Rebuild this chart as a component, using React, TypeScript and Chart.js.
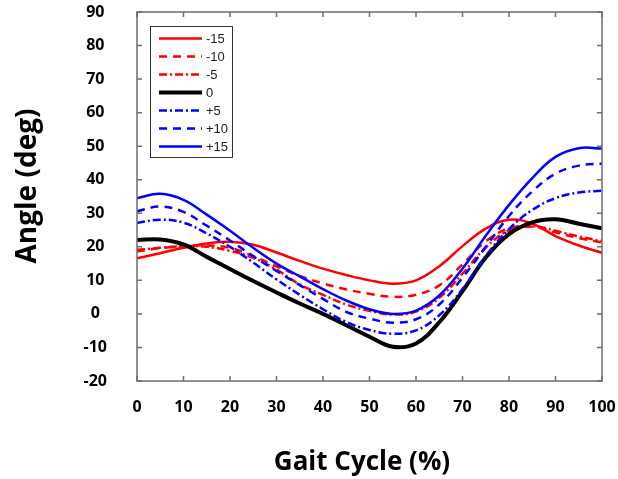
import React, { useEffect, useRef } from "react";
import { Chart, registerables } from "chart.js";

Chart.register(...registerables);

// Gait cycle (%) sample positions
const gaitPct = [0, 5, 10, 15, 20, 25, 30, 35, 40, 45, 50, 55, 60, 65, 70, 75, 80, 85, 90, 95, 100];

// Angle (deg) per condition
const angleM15 = [16.6, 18.1, 19.7, 21.0, 21.5, 20.6, 18.3, 15.8, 13.5, 11.6, 10.0, 9.0, 10.0, 14.2, 20.2, 25.4, 28.1, 26.9, 23.2, 20.4, 18.2];
const angleM10 = [18.6, 19.6, 20.2, 20.4, 19.7, 17.2, 14.2, 11.3, 9.1, 7.3, 6.0, 5.1, 5.7, 8.5, 14.8, 21.6, 25.5, 26.0, 24.3, 22.6, 21.3];
const angleM5 = [19.1, 19.7, 20.2, 20.0, 18.8, 16.7, 13.2, 8.8, 5.7, 2.8, 0.9, -0.2, 0.7, 4.8, 12.0, 19.8, 24.9, 26.1, 24.8, 23.1, 21.7];
const angle0 = [22.0, 22.2, 20.7, 17.0, 13.4, 9.8, 6.4, 3.1, 0.0, -3.4, -6.8, -9.8, -8.8, -2.5, 6.8, 16.8, 23.8, 27.3, 28.2, 26.9, 25.5];
const angleP5 = [27.1, 28.1, 27.2, 24.0, 20.0, 15.3, 10.3, 5.7, 1.4, -2.4, -4.8, -5.9, -4.9, -0.4, 7.4, 17.3, 25.3, 31.0, 34.5, 36.2, 36.7];
const angleP10 = [30.6, 32.0, 30.4, 26.3, 21.9, 17.2, 12.8, 8.6, 4.5, 0.6, -1.4, -2.6, -1.6, 2.8, 10.8, 20.0, 29.2, 36.5, 41.8, 44.2, 44.8];
const angleP15 = [34.5, 35.8, 34.0, 29.6, 24.8, 19.7, 15.0, 11.2, 7.4, 4.0, 1.4, 0.0, 1.0, 5.5, 13.5, 23.3, 32.5, 40.5, 46.8, 49.4, 49.3];

const seriesLabels = ["-15", "-10", "-5", "0", "+5", "+10", "+15"];
const seriesValues = [angleM15, angleM10, angleM5, angle0, angleP5, angleP10, angleP15];
const seriesColors = ["#ff0000", "#ff0000", "#ff0000", "#000000", "#0000ff", "#0000ff", "#0000ff"];
const seriesDash = [[], [8, 6], [8, 3, 2, 3], [], [8, 3, 2, 3], [8, 6], []];
const seriesWidth = [2.5, 2.5, 2.5, 4, 2.5, 2.5, 2.5];

const yTitle = "Angle (deg)";
const xTitle = "Gait Cycle (%)";

const FRAME = "#6e6e6e";

const framePlugin = {
  id: "frameTicks",
  afterDraw(chart: any) {
    const { ctx, chartArea: a, scales } = chart;
    const xs = scales.x;
    const ys = scales.y;
    ctx.save();
    ctx.strokeStyle = FRAME;
    ctx.lineWidth = 1.5;
    ctx.setLineDash([]);
    ctx.strokeRect(a.left, a.top, a.right - a.left, a.bottom - a.top);
    const tl = 5;
    ctx.beginPath();
    xs.ticks.forEach((t: any) => {
      const px = xs.getPixelForValue(t.value);
      ctx.moveTo(px, a.bottom);
      ctx.lineTo(px, a.bottom - tl);
      ctx.moveTo(px, a.top);
      ctx.lineTo(px, a.top + tl);
    });
    ys.ticks.forEach((t: any) => {
      const py = ys.getPixelForValue(t.value);
      ctx.moveTo(a.left, py);
      ctx.lineTo(a.left + tl, py);
      ctx.moveTo(a.right, py);
      ctx.lineTo(a.right - tl, py);
    });
    ctx.stroke();

    // axis titles
    ctx.fillStyle = "#000";
    ctx.textAlign = "center";
    ctx.textBaseline = "middle";
    ctx.font = "bold 26px 'Open Sans'";
    ctx.fillText(xTitle, 362, 463);
    ctx.save();
    ctx.translate(28, 186);
    ctx.rotate(-Math.PI / 2);
    ctx.font = "bold 28px 'Open Sans'";
    ctx.fillText(yTitle, 0, 0);
    ctx.restore();

    // legend
    const bx = 150, by = 26, bw = 82, bh = 131;
    ctx.fillStyle = "#fff";
    ctx.fillRect(bx, by, bw, bh);
    ctx.strokeStyle = "#333";
    ctx.lineWidth = 1;
    ctx.strokeRect(bx + 0.5, by + 0.5, bw, bh);
    ctx.font = "13px 'Liberation Sans', Arial, sans-serif";
    ctx.textAlign = "left";
    ctx.textBaseline = "middle";
    chart.data.datasets.forEach((ds: any, i: number) => {
      const y = 38.5 + i * 18;
      ctx.beginPath();
      ctx.strokeStyle = ds.borderColor;
      ctx.lineWidth = ds.borderWidth;
      ctx.setLineDash(ds.borderDash || []);
      ctx.moveTo(159, y);
      ctx.lineTo(202, y);
      ctx.stroke();
      ctx.setLineDash([]);
      ctx.fillStyle = "#222";
      ctx.fillText(ds.label, 206, y + 0.5);
    });
    ctx.restore();
  },
};

export default function App() {
  const ref = useRef<HTMLCanvasElement | null>(null);
  useEffect(() => {
    if (!ref.current) return;
    const datasets = seriesLabels.map((label, i) => ({
      label,
      data: gaitPct.map((x, j) => ({ x, y: seriesValues[i][j] })),
      borderColor: seriesColors[i],
      backgroundColor: seriesColors[i],
      borderDash: seriesDash[i],
      borderWidth: seriesWidth[i],
      pointRadius: 0,
      fill: false,
      tension: 0.4,
      order: 7 - i,
    }));
    const chart = new Chart(ref.current, {
      type: "line",
      data: { datasets },
      plugins: [framePlugin],
      options: {
        animation: false,
        responsive: false,
        maintainAspectRatio: false,
        layout: { padding: { top: 12, right: 16, left: 0, bottom: 0 } },
        plugins: { legend: { display: false }, tooltip: { enabled: false } },
        scales: {
          x: {
            type: "linear",
            min: 0,
            max: 100,
            grid: { display: false, drawTicks: false },
            border: { display: false },
            ticks: {
              stepSize: 10,
              padding: 17,
              color: "#000",
              font: { family: "'Open Sans'", weight: "bold", size: 16 },
            },
            afterFit: (s: any) => {
              s.height = 98;
              s.paddingLeft = 0;
              s.paddingRight = 0;
            },
          },
          y: {
            type: "linear",
            min: -20,
            max: 90,
            grid: { display: false, drawTicks: false },
            border: { display: false },
            ticks: {
              stepSize: 10,
              padding: 30,
              crossAlign: "center",
              color: "#000",
              font: { family: "'Open Sans'", weight: "bold", size: 16 },
            },
            afterFit: (s: any) => {
              s.width = 137;
              s.paddingTop = 0;
              s.paddingBottom = 0;
            },
          },
        },
      } as any,
    });
    return () => chart.destroy();
  }, []);
  return (
    <div style={{ position: "fixed", left: 0, top: 0, width: 618, height: 479, background: "#fff" }}>
      <canvas ref={ref} width={618} height={479} style={{ width: 618, height: 479 }} />
    </div>
  );
}
